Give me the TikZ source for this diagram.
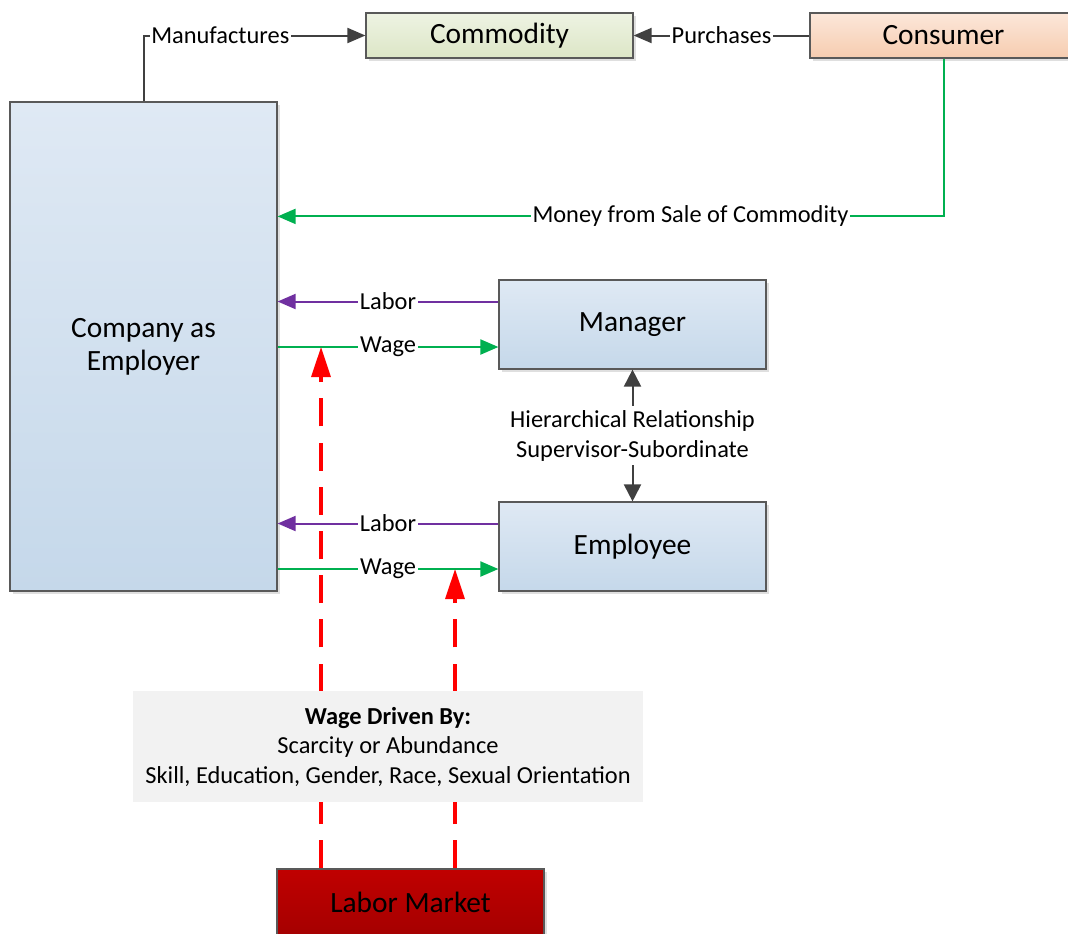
\documentclass[tikz,border=0pt]{standalone}
\usepackage{fontspec}
\setmainfont{Carlito}
\usetikzlibrary{arrows.meta,shadows}

\definecolor{linegray}{HTML}{404040}
\definecolor{moneygreen}{HTML}{00B050}
\definecolor{laborpurple}{HTML}{7030A0}
\definecolor{boxline}{HTML}{595959}
\definecolor{blueTop}{HTML}{DFE9F4}
\definecolor{blueBot}{HTML}{C5D8EA}
\definecolor{greenTop}{HTML}{EEF3E3}
\definecolor{greenBot}{HTML}{DCE6C6}
\definecolor{peachTop}{HTML}{FCE7DA}
\definecolor{peachBot}{HTML}{F6CCAF}
\definecolor{marketTop}{HTML}{C00000}
\definecolor{marketBot}{HTML}{A50000}
\definecolor{driverGray}{HTML}{F2F2F2}

\begin{document}
\begin{tikzpicture}[x=0.5pt, y=-0.5pt,
    box/.style = {draw=boxline, line width=0.6pt, inner sep=0pt,
        minimum width=133.5pt, minimum height=22.5pt, align=center,
        font=\fontsize{14.7}{16.5}\selectfont,
        drop shadow={shadow xshift=1.5pt, shadow yshift=-1.5pt, opacity=0.25, fill=gray}},
    bluebox/.style = {box, top color=blueTop, bottom color=blueBot},
    lbl/.style = {fill=white, text=black, inner sep=0.8pt, font=\fontsize{12.2}{15}\selectfont},
    flow/.style = {line width=1pt, -{Triangle[length=9pt, width=7.5pt]}},
    push/.style = {red, line width=1.6pt, dash pattern=on 14pt off 8.1pt,
        -{Triangle[length=15pt, width=9.5pt]}}]
    \clip (0,0) rectangle (1068,933);

    % boxes
    \node[box, top color=greenTop, bottom color=greenBot] (commodity) at (499.5,35.5) {Commodity};
    \node[box, top color=peachTop, bottom color=peachBot] (consumer)  at (943.5,35.5) {Consumer};
    \node[bluebox, minimum height=244.5pt] (company)  at (143.5,346.5) {Company as\\Employer};
    \node[bluebox, minimum height=44.5pt]  (manager)  at (632.5,324.5) {Manager};
    \node[bluebox, minimum height=44.5pt]  (employee) at (632.5,546.5) {Employee};
    \node[box, top color=marketTop, bottom color=marketBot, minimum height=33pt] (market) at (410.5,902) {Labor Market};

    % goods and money
    \draw[flow, linegray] (company.north) |- node[lbl, pos=0.673] {Manufactures} (commodity.west);
    \draw[flow, linegray] (consumer.west) -- node[lbl] {Purchases} (commodity.east);
    \draw[flow, moneygreen] (consumer.south) |- node[lbl, pos=0.69] {Money from Sale of Commodity} ([yshift=-57.5pt]company.north east);

    % labor and wage
    \foreach \who in {manager, employee} {
        \draw[flow, laborpurple] ([yshift=11.5pt]\who.west) -- node[lbl] {Labor} ([yshift=11.5pt]\who.west -| company.east);
        \draw[flow, moneygreen] ([yshift=-11.25pt]\who.west -| company.east) -- node[lbl] {Wage} ([yshift=-11.25pt]\who.west);
    }

    \draw[linegray, line width=1pt, {Triangle[length=8.5pt, width=8.5pt]}-{Triangle[length=8.5pt, width=8.5pt]}]
        (manager.south) -- node[lbl, align=center, inner sep=2pt]
        {Hierarchical Relationship\\Supervisor-Subordinate} (employee.north);

    % labor market pushes wages
    \coordinate (wageM) at (321,347);
    \coordinate (wageE) at (455,569);
    \draw[push] (wageM |- market.north) -- (wageM);
    \draw[push] (wageE |- market.north) -- (wageE);

    \node[fill=driverGray, minimum width=255pt, minimum height=55.5pt, align=center,
        font=\fontsize{12.2}{14.75}\selectfont] (drivers) at (388,746.5)
        {\textbf{Wage Driven By:}\\Scarcity or Abundance\\Skill, Education, Gender, Race, Sexual Orientation};
\end{tikzpicture}
\end{document}
